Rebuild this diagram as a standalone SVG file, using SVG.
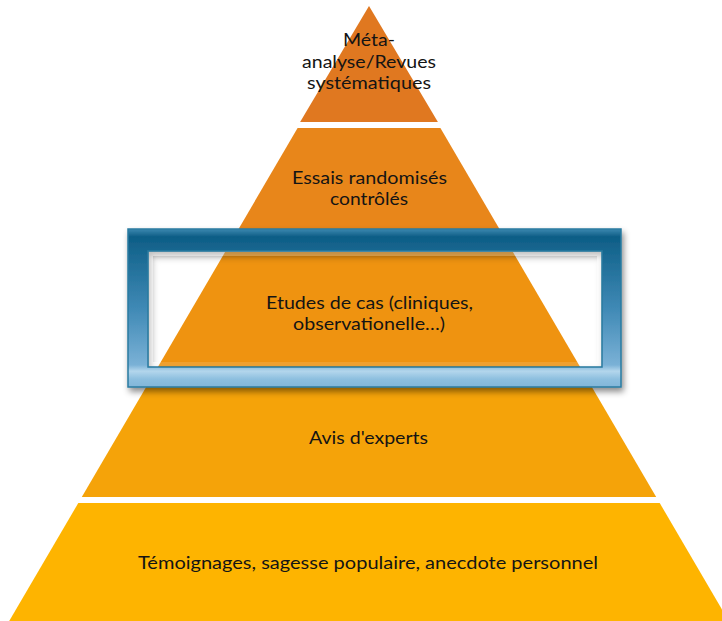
<svg xmlns="http://www.w3.org/2000/svg" width="722" height="621" viewBox="0 0 722 621">
  <style>
    .lbl { font-family: Lato, "Open Sans", "Liberation Sans", sans-serif; font-size: 16.5px; fill: #141414; text-anchor: middle; }
  </style>
  <defs>
    <linearGradient id="frameGrad" gradientUnits="userSpaceOnUse" x1="0" y1="229" x2="0" y2="387">
      <stop offset="0" stop-color="#3B88B0"/>
      <stop offset="0.05" stop-color="#0E5D86"/>
      <stop offset="0.13" stop-color="#16668F"/>
      <stop offset="0.5" stop-color="#3F89B5"/>
      <stop offset="0.86" stop-color="#7AB1D6"/>
      <stop offset="0.9" stop-color="#B3D6EC"/>
      <stop offset="0.95" stop-color="#8DBFDF"/>
      <stop offset="1" stop-color="#82B6D9"/>
    </linearGradient>
    <filter id="shadow" x="-10%" y="-20%" width="125%" height="150%">
      <feDropShadow dx="2" dy="4" stdDeviation="3" flood-color="#000" flood-opacity="0.45"/>
    </filter>
  </defs>

  <g id="layer1">
    <polygon points="369,6 437.9,122 300.1,122" fill="#E07820"/>
    <text class="lbl" x="369" y="46" textLength="52" lengthAdjust="spacingAndGlyphs">Méta-</text>
    <text class="lbl" x="369" y="67.5" textLength="134" lengthAdjust="spacingAndGlyphs">analyse/Revues</text>
    <text class="lbl" x="369" y="89" textLength="124" lengthAdjust="spacingAndGlyphs">systématiques</text>
  </g>

  <g id="layer2">
    <polygon points="297.6,128 440.4,128 509.4,246 228.6,246" fill="#E8861A"/>
    <text class="lbl" x="369.5" y="184" textLength="155" lengthAdjust="spacingAndGlyphs">Essais randomisés</text>
    <text class="lbl" x="369" y="204.5" textLength="78" lengthAdjust="spacingAndGlyphs">contrôlés</text>
  </g>

  <g id="layer3">
    <polygon points="225.1,252 512.9,252 582.5,371 155.5,371" fill="#EF9310"/>
    <text class="lbl" x="369.5" y="308.5" textLength="207" lengthAdjust="spacingAndGlyphs">Etudes de cas (cliniques,</text>
    <text class="lbl" x="369" y="329.5" textLength="152" lengthAdjust="spacingAndGlyphs">observationelle…)</text>
  </g>

  <g id="layer4">
    <polygon points="152,377 586,377 656.2,497 81.8,497" fill="#F5A309"/>
    <text class="lbl" x="368.5" y="444" textLength="119" lengthAdjust="spacingAndGlyphs">Avis d'experts</text>
  </g>

  <g id="layer5">
    <polygon points="78.3,503 659.7,503 728.8,621 9.2,621" fill="#FEB400"/>
    <text class="lbl" x="368" y="569" textLength="460" lengthAdjust="spacingAndGlyphs">Témoignages, sagesse populaire, anecdote personnel</text>
  </g>

  <g id="highlight-frame" filter="url(#shadow)">
    <path d="M128,229 H621 V387 H128 Z M148,251 V367 H602 V251 Z" fill="url(#frameGrad)" fill-rule="evenodd" stroke="#2A7BA0" stroke-width="1.5"/>
    <rect x="151" y="254" width="448" height="110" fill="none" stroke="#FFFFFF" stroke-opacity="0.12" stroke-width="4"/>
  </g>
</svg>
